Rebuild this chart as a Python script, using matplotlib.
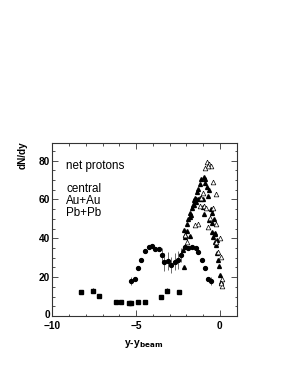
import matplotlib
matplotlib.use("Agg")
import matplotlib.pyplot as plt
from matplotlib.ticker import MultipleLocator
from matplotlib.transforms import ScaledTranslation

# ---- data ----
sq_x = [-8.28, -7.58, -7.20, -6.20, -5.87, -5.42, -5.32, -4.87, -4.49, -3.49, -3.15, -2.43]
sq_y = [12.2, 13.1, 10.3, 7.4, 7.1, 6.7, 6.5, 7.1, 7.2, 10.0, 13.1, 12.2]
sq_err = [0.8, 1.5, 0.8, 0.6, 0.6, 0.8, 0.8, 0.6, 0.6, 0.8, 1.5, 0.8]

ci_x = [-5.31, -5.09, -4.89, -4.69, -4.47, -4.25, -4.05, -3.85, -3.65, -3.47, -3.31,
        -3.11, -2.89, -2.69, -2.51, -2.29, -2.07, -1.87, -1.65, -1.45, -1.29, -1.05,
        -0.90, -0.69, -0.50]
ci_y = [18.1, 19.3, 24.6, 28.7, 33.4, 35.5, 35.8, 34.6, 34.4, 31.3, 27.9,
        28.2, 26.3, 28.0, 28.9, 31.3, 35.6, 34.9, 35.5, 34.9, 32.7, 28.7,
        24.6, 19.3, 18.1]
ci_err = [2.0, 1.0, 1.0, 1.0, 1.0, 1.0, 1.0, 1.0, 1.0, 3.5, 4.5,
          4.5, 4.0, 4.5, 4.5, 3.5, 1.0, 1.0, 1.0, 1.0, 1.0, 1.0,
          1.0, 1.0, 2.0]

ft_x = [-2.11, -2.19, -2.16, -2.08, -1.95, -1.89, -1.75, -1.65, -1.57, -1.51, -1.46,
        -1.36, -1.28, -1.20, -1.10, -0.96, -0.86, -0.90, -0.75, -0.63, -0.68, -0.51,
        -0.48, -0.36, -0.44, -0.40, -0.26, -0.30, -0.22, -0.16, -0.08, -0.04, 0.02,
        0.08, -1.55, -1.40, -1.30, -1.20, -1.10, -1.00, -1.45, -1.62, -1.70, -1.80,
        -1.95, -2.05, -1.02, -0.95, -0.66, -0.46, -0.26, -0.16, -1.75]
ft_y = [25.4, 34.0, 44.4, 41.9, 47.5, 49.9, 53.0, 55.6, 57.3, 59.0, 60.8,
        63.6, 65.4, 68.0, 70.6, 71.6, 70.7, 68.5, 66.4, 64.7, 61.6, 55.1,
        53.0, 50.1, 43.0, 40.6, 42.2, 38.0, 36.6, 32.4, 28.9, 25.8, 21.3,
        17.7, 59.8, 60.2, 60.0, 60.5, 60.0, 60.3, 58.5, 57.0, 52.0, 51.0,
        44.0, 40.5, 56.0, 52.5, 49.5, 47.8, 42.7, 39.2, 41.0]

ot_x = [-0.75, -0.62, -0.50, -0.68, -0.90, -0.42, -0.24, -1.02, -1.10, -0.96, -0.81,
        -0.38, -1.28, -0.60, -0.22, 0.04, -0.22, -0.12, 0.10, 0.16, 0.14, 0.05,
        -2.05, -1.95, -1.20, -0.70, -1.50]
ot_y = [79.1, 78.5, 77.4, 77.0, 76.2, 69.0, 62.6, 63.1, 60.6, 56.4, 55.6,
        55.7, 47.3, 50.2, 47.5, 39.9, 38.3, 32.7, 30.3, 19.0, 15.2, 17.0,
        41.8, 38.0, 56.4, 46.0, 47.0]

y_ticks = [0, 20, 40, 60, 80]
x_ticks = [-10, -5, 0]

plt.rcParams['font.family'] = ['Liberation Sans', 'DejaVu Sans']

fig = plt.figure(figsize=(2.84, 3.67), dpi=100)
ax = fig.add_axes([0.184, 0.139, 0.649, 0.471])

ax.errorbar(sq_x, sq_y, yerr=sq_err, fmt='s', color='black', ms=3.4,
            elinewidth=0.6, capsize=0)
ax.errorbar(ci_x, ci_y, yerr=ci_err, fmt='o', color='black', ms=2.8,
            elinewidth=0.6, ecolor='#555555', capsize=0)
ax.plot(ft_x, ft_y, '^', color='black', ms=2.8, linestyle='none')
ax.plot(ot_x, ot_y, '^', mfc='white', mec='black', mew=0.5, ms=3.4, linestyle='none')

ax.set_xlim(-10, 1)
ax.set_ylim(0, 89)
ax.set_xticks(x_ticks)
ax.set_yticks(y_ticks)
ax.xaxis.set_minor_locator(MultipleLocator(1))
ax.yaxis.set_minor_locator(MultipleLocator(5))
ax.tick_params(which='both', direction='in', top=True, right=True, width=0.6,
               colors='#333333', labelcolor='black')
ax.tick_params(which='major', length=4, labelsize=7.3)
ax.tick_params(axis='x', which='major', pad=3.8)
ax.tick_params(axis='y', which='major', pad=1.5)
ax.tick_params(which='minor', length=1.8)
for lbl in ax.get_xticklabels() + ax.get_yticklabels():
    lbl.set_fontweight('bold')
zero_lbl = ax.yaxis.get_major_ticks()[0].label1
zero_lbl.set_transform(zero_lbl.get_transform() +
                       ScaledTranslation(0, 1.2 / 72, fig.dpi_scale_trans))
for s in ax.spines.values():
    s.set_linewidth(0.8)
    s.set_color('#333333')

ax.text(0.075, 0.87, 'net protons', transform=ax.transAxes, fontsize=8.4,
        va='center', ha='left')
ax.text(0.075, 0.665, 'central\nAu+Au\nPb+Pb', transform=ax.transAxes, fontsize=8.4,
        va='center', ha='left', linespacing=1.0)

fig.text(22.3 / 284, 1 - 155.5 / 367, 'dN/dy', rotation=90, fontsize=7.2,
         fontweight='bold', ha='center', va='center')
fig.text(144 / 284, 1 - 344 / 367, r'y-y$_{\mathbf{beam}}$', fontsize=7.5,
         fontweight='bold', ha='center', va='center')

fig.savefig('out.png', dpi=100)
